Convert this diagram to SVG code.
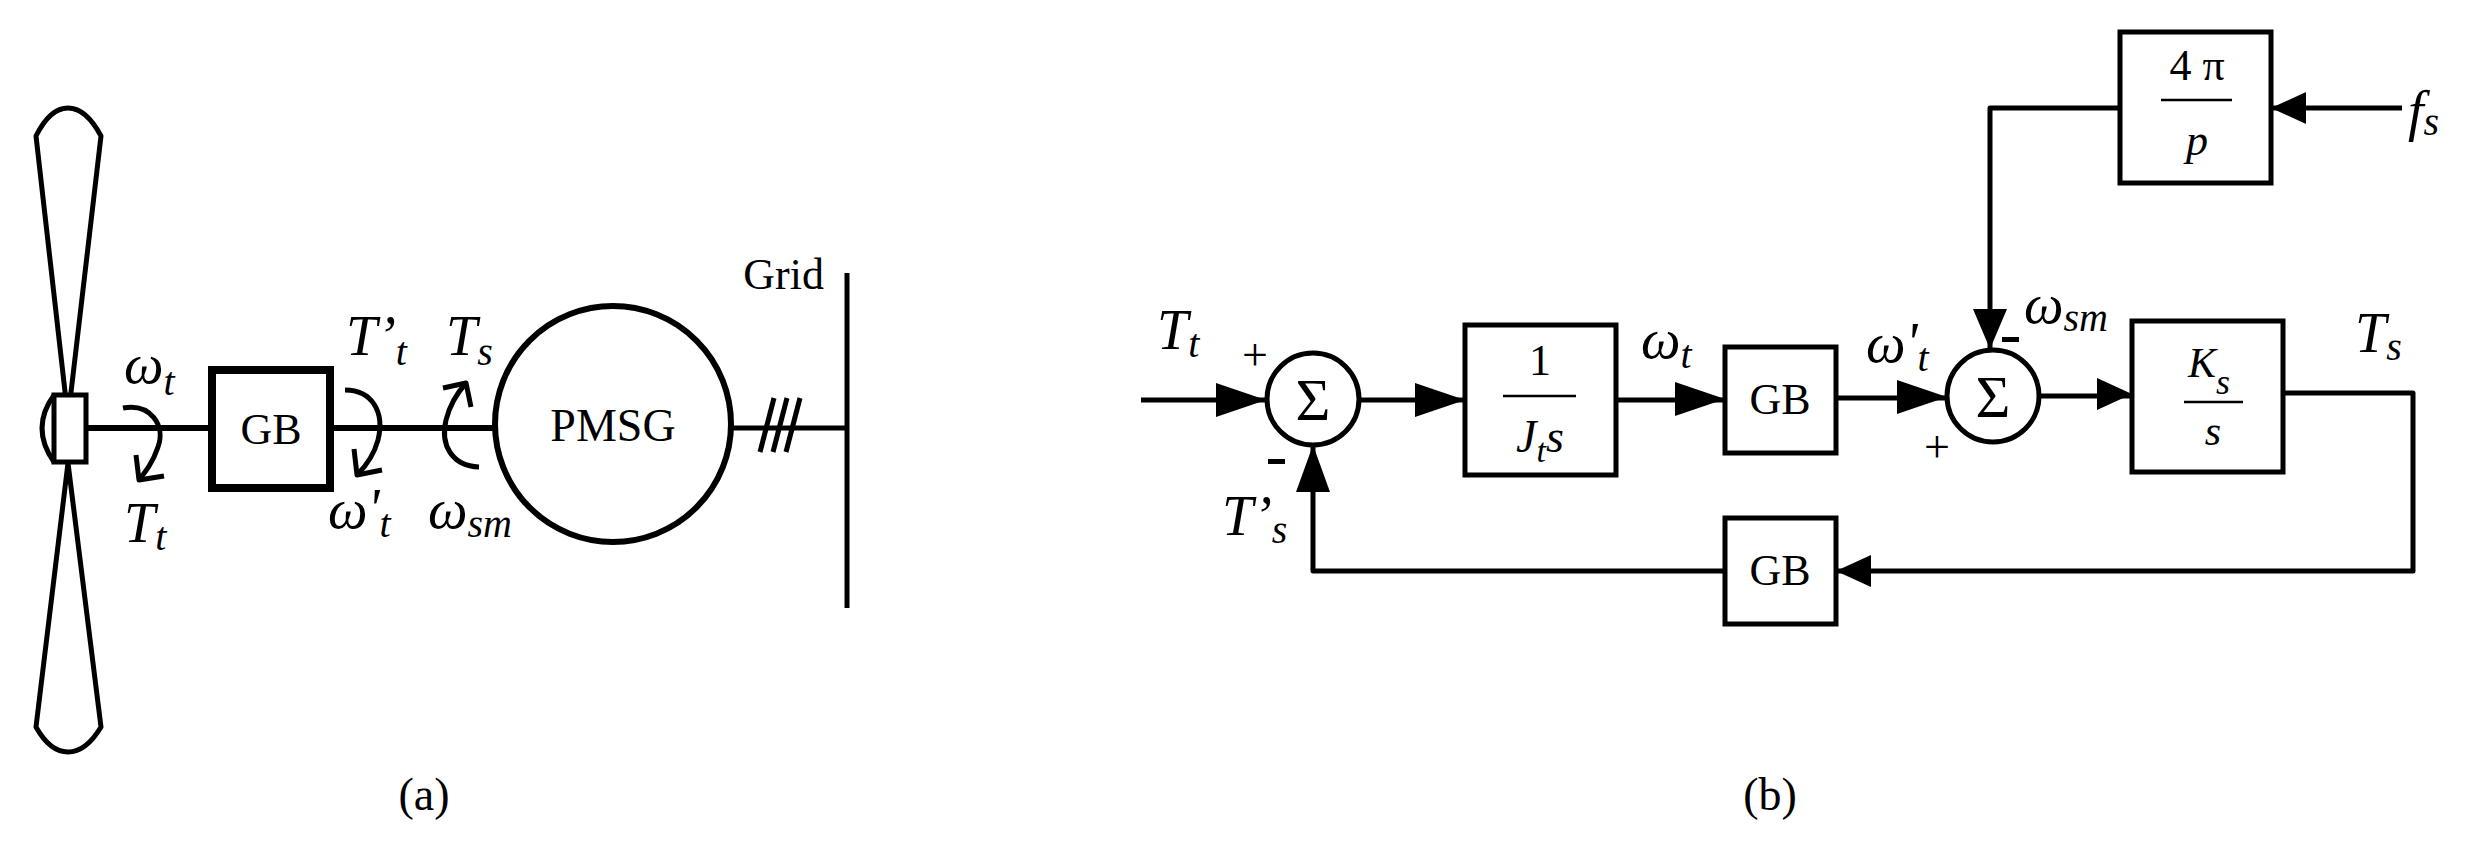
<svg xmlns="http://www.w3.org/2000/svg" width="2477" height="845" viewBox="0 0 2477 845">
<style>
.ln{fill:none;stroke:#000;stroke-width:5;stroke-linejoin:round}
.bx{fill:#fff;stroke:#000;stroke-width:5}
.t{font-family:"Liberation Serif",serif;fill:#000}
.i{font-style:italic}
.ah{fill:#000}
</style>
<rect width="2477" height="845" fill="#fff"/>
<!-- (a) -->
<g id="turbine">
<path class="ln" d="M68,418 L36,136 Q50,108 68,108 Q86,108 101,136 Z"/>
<path class="ln" d="M68,463 L36,727 Q50,752 68,752 Q86,752 101,727 Z"/>
<path class="ln" d="M54,395 Q30,428 54,462"/>
<rect class="bx" x="54" y="395" width="32" height="67"/>
</g>
<g id="shaft" class="ln">
<line x1="86" y1="428" x2="212" y2="428" stroke-width="6"/>
<line x1="330" y1="428" x2="496" y2="428" stroke-width="6"/>
<line x1="731" y1="428" x2="847" y2="428" stroke-width="5"/>
<line x1="760" y1="452" x2="774" y2="398"/>
<line x1="773" y1="452" x2="787" y2="398"/>
<line x1="786" y1="452" x2="800" y2="398"/>
<line x1="847" y1="273" x2="847" y2="608"/>
</g>
<g id="gb-a"><rect x="212" y="370" width="118" height="118" fill="#fff" stroke="#000" stroke-width="8"/><text class="t" x="271" y="444" font-size="44" text-anchor="middle">GB</text></g>
<g id="pmsg"><circle cx="613" cy="424" r="118" fill="#fff" stroke="#000" stroke-width="6"/><text class="t" x="613" y="441" font-size="46" text-anchor="middle">PMSG</text></g>
<text class="t" x="824" y="289" font-size="44" text-anchor="end">Grid</text>
<g id="rot-arrows" class="ln" stroke-width="3.5">
<path d="M123,408 C150,403 166,425 158,447 C153,462 146,471 139,480"/>
<path d="M136,455 L139,480 L164,476"/>
<path d="M345,390 C372,390 385,412 378,440 C374,455 366,466 357,475"/>
<path d="M354,449 L357,475 L382,470"/>
<path d="M479,467 C452,466 440,445 446,420 C450,404 458,392 466,383"/>
<path d="M443,388 L466,383 L471,407"/>
</g>
<g class="t i">
<text x="124" y="383" font-size="56">ω<tspan font-size="40" dy="12">t</tspan></text>
<text x="124" y="542" font-size="56">T<tspan font-size="40" dy="8">t</tspan></text>
<text x="346" y="355" font-size="56">T’<tspan font-size="40" dy="10">t</tspan></text>
<text x="446" y="355" font-size="56">T<tspan font-size="40" dy="10">s</tspan></text>
<text x="328" y="528" font-size="56">ω'<tspan font-size="40" dy="9">t</tspan></text>
<text x="428" y="528" font-size="56">ω<tspan font-size="40" dy="9">sm</tspan></text>
</g>
<text class="t" x="424" y="810" font-size="46" text-anchor="middle">(a)</text>
<!-- (b) -->
<g id="connectors">
<path class="ln" d="M1141,400 H1266"/>
<path class="ln" d="M1360,400 H1465"/>
<path class="ln" d="M1616,400 H1725"/>
<path class="ln" d="M1836,398 H1947"/>
<path class="ln" d="M2039,396 H2132"/>
<path class="ln" d="M2283,393 H2413 V571 H1836"/>
<path class="ln" d="M1725,571 H1313 V445"/>
<path class="ln" d="M2120,108 H1990 V349"/>
<path class="ln" d="M2402,108 H2271"/>
<path class="ah" d="M1266,400 L1216,383 L1216,417 Z"/>
<path class="ah" d="M1465,400 L1415,383 L1415,417 Z"/>
<path class="ah" d="M1725,399 L1675,382 L1675,416 Z"/>
<path class="ah" d="M1947,397 L1897,380 L1897,414 Z"/>
<path class="ah" d="M2132,394 L2097,378 L2097,410 Z"/>
<path class="ah" d="M1836,571 L1871,555 L1871,587 Z"/>
<path class="ah" d="M1313,445 L1296,492 L1330,492 Z"/>
<path class="ah" d="M1990,349 L1973,309 L2007,309 Z"/>
<path class="ah" d="M2271,108 L2306,92 L2306,124 Z"/>
</g>
<g id="sum1"><circle class="bx" cx="1313" cy="399" r="46"/><text class="t" x="1313" y="420" font-size="60" text-anchor="middle">Σ</text></g>
<g id="sum2"><circle class="bx" cx="1993" cy="396" r="46"/><text class="t" x="1993" y="417" font-size="60" text-anchor="middle">Σ</text></g>
<g id="block-jt"><rect class="bx" x="1465" y="325" width="151" height="150"/><text class="t" x="1540" y="375" font-size="44" text-anchor="middle">1</text><line x1="1503" y1="396" x2="1576" y2="396" stroke="#000" stroke-width="2.5"/><text class="t i" x="1540" y="452" font-size="46" text-anchor="middle">J<tspan font-size="34" dy="10">t</tspan><tspan dy="-10">s</tspan></text></g>
<g id="gb1"><rect class="bx" x="1725" y="347" width="111" height="106"/><text class="t" x="1780" y="414" font-size="44" text-anchor="middle">GB</text></g>
<g id="gb2"><rect class="bx" x="1725" y="518" width="111" height="106"/><text class="t" x="1780" y="585" font-size="44" text-anchor="middle">GB</text></g>
<g id="block-ks"><rect class="bx" x="2132" y="321" width="151" height="151"/><text class="t i" x="2188" y="377" font-size="42">K<tspan font-size="36" dy="17">s</tspan></text><line x1="2184" y1="402" x2="2243" y2="402" stroke="#000" stroke-width="2.5"/><text class="t i" x="2213" y="445" font-size="42" text-anchor="middle">s</text></g>
<g id="block-4pi"><rect class="bx" x="2120" y="32" width="151" height="151"/><text class="t" x="2197" y="80" font-size="44" text-anchor="middle">4 π</text><line x1="2161" y1="100" x2="2232" y2="100" stroke="#000" stroke-width="2.5"/><text class="t i" x="2197" y="155" font-size="44" text-anchor="middle">p</text></g>
<g class="t i">
<text x="1157" y="349" font-size="56">T<tspan font-size="40" dy="8">t</tspan></text>
<text x="1222" y="535" font-size="56">T’<tspan font-size="40" dy="8">s</tspan></text>
<text x="1641" y="358" font-size="56">ω<tspan font-size="40" dy="10">t</tspan></text>
<text x="1866" y="362" font-size="56">ω'<tspan font-size="40" dy="9">t</tspan></text>
<text x="2024" y="323" font-size="56">ω<tspan font-size="40" dy="8">sm</tspan></text>
<text x="2355" y="352" font-size="56">T<tspan font-size="40" dy="8">s</tspan></text>
<text x="2408" y="130" font-size="56">f<tspan font-size="40" dy="5">s</tspan></text>
</g>
<g class="t" font-size="46">
<text x="1255" y="370" text-anchor="middle">+</text>
<text x="1937" y="462" text-anchor="middle">+</text>
</g>
<rect x="1268" y="459" width="17" height="5" fill="#000"/>
<rect x="2002" y="337" width="17" height="5" fill="#000"/>
<text class="t" x="1770" y="810" font-size="46" text-anchor="middle">(b)</text>
</svg>
